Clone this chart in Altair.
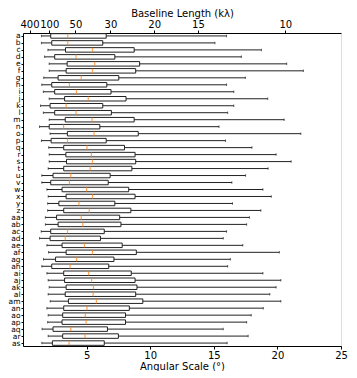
import altair as alt
import pandas as pd

cats = ["a", "b", "c", "d", "e", "f", "g", "h", "i", "j", "k", "l", "m", "n", "o",
        "p", "q", "r", "s", "t", "u", "v", "w", "x", "y", "z",
        "aa", "ab", "ac", "ad", "ae", "af", "ag", "ah", "ai", "aj", "ak", "al", "am",
        "an", "ao", "ap", "aq", "ar", "as"]

w_lo = [1.45, 1.45, 1.96, 1.70, 2.06, 2.06, 1.63, 1.48, 1.60, 2.06, 1.38, 1.60, 2.06, 1.30, 2.13,
        1.45, 2.02, 2.06, 2.06, 1.98, 1.48, 1.48, 1.88, 1.98, 1.94, 1.94,
        1.76, 1.76, 1.43, 1.30, 1.88, 2.01, 1.61, 1.48, 1.88, 1.98, 2.06, 1.98, 2.14,
        1.88, 1.98, 1.94, 1.50, 1.98, 1.48]

q1 = [2.18, 2.26, 3.34, 2.49, 3.47, 3.39, 2.76, 2.26, 2.49, 3.27, 2.13, 2.49, 3.32, 2.06, 3.49,
      2.21, 3.20, 3.37, 3.42, 3.20, 2.36, 2.18, 3.07, 3.39, 2.82, 3.20,
      2.64, 2.76, 2.18, 2.13, 3.07, 3.39, 2.56, 2.26, 3.20, 3.27, 3.39, 3.32, 3.57,
      3.20, 3.12, 3.07, 2.36, 3.12, 2.31]

med = [3.52, 3.52, 5.46, 4.17, 5.64, 5.46, 4.58, 3.65, 4.20, 5.13, 3.39, 4.17, 5.43, 3.19, 5.59,
       3.50, 5.03, 5.38, 5.46, 5.28, 3.75, 3.65, 5.00, 5.46, 4.40, 5.21,
       4.58, 4.70, 3.50, 3.32, 4.83, 5.46, 4.21, 3.70, 5.16, 5.39, 5.54, 5.51, 5.77,
       5.03, 4.90, 4.96, 3.75, 4.88, 3.62]

q3 = [6.54, 6.27, 8.74, 7.22, 9.17, 8.86, 7.53, 6.59, 6.92, 8.10, 6.27, 6.95, 8.74, 6.04, 9.06,
      6.54, 7.98, 8.81, 8.86, 8.56, 6.85, 6.70, 8.31, 8.81, 7.22, 8.48,
      7.60, 7.70, 6.39, 6.09, 7.80, 8.91, 7.15, 6.74, 8.51, 8.81, 8.96, 8.86, 9.42,
      8.36, 8.06, 8.06, 6.64, 7.50, 6.39]

w_hi = [16.00, 15.09, 18.74, 17.17, 20.73, 22.04, 17.48, 16.00, 16.57, 19.24, 16.57, 16.09, 20.53, 15.41, 21.84,
        15.92, 18.00, 19.90, 21.08, 19.27, 17.50, 16.42, 18.86, 19.52, 16.47, 18.70,
        17.80, 17.58, 16.00, 15.74, 17.28, 20.15, 16.30, 16.09, 18.86, 20.27, 19.90, 19.40, 20.27,
        18.89, 17.94, 17.58, 15.74, 17.70, 16.05]

baselines = [400, 100, 50, 30, 20, 15, 10]
bottom_ticks = [5, 10, 15, 20, 25]

df = pd.DataFrame({"cat": cats, "lo": w_lo, "q1": q1, "med": med, "q3": q3, "hi": w_hi})
top_vals = [206.265 / b for b in baselines]
top_df = pd.DataFrame({"ang": top_vals})

FONT = "DejaVu Sans"
LINE = "#222222"

x_axis = alt.Axis(title="Angular Scale (°)", values=bottom_ticks, grid=False,
                  labelFontSize=10, titleFontSize=10, labelPadding=1, titlePadding=1,
                  tickSize=3, labelFont=FONT, titleFont=FONT, titleFontWeight="normal",
                  labelColor="black", titleColor="black", domainColor="black",
                  tickColor="black", labelFlush=False)


def xs():
    return alt.Scale(domain=[0, 25], nice=False, zero=False)


y_enc = alt.Y("cat:N", sort=cats, title=None,
              scale=alt.Scale(type="point", padding=0.42),
              axis=alt.Axis(labelFontSize=7.5, labelPadding=1, tickSize=2, labelFont=FONT,
                            labelColor="black", domainColor="black", tickColor="black",
                            grid=False, labelOverlap=False))

base = alt.Chart(df)

whisk = base.mark_rule(color=LINE, strokeWidth=1).encode(
    x=alt.X("lo:Q", scale=xs(), axis=x_axis), x2="hi:Q", y=y_enc)

box = base.mark_bar(fill="white", stroke=LINE, strokeWidth=1, size=4.5).encode(
    x=alt.X("q1:Q", scale=xs(), axis=x_axis), x2="q3:Q", y=y_enc)

median = base.mark_tick(color="#ff7f0e", orient="vertical", size=4.5, thickness=1.2).encode(
    x=alt.X("med:Q", scale=xs(), axis=x_axis), y=y_enc)

cap_lo = base.mark_tick(color=LINE, orient="vertical", size=2.5, thickness=1).encode(
    x=alt.X("lo:Q", scale=xs(), axis=x_axis), y=y_enc)

cap_hi = base.mark_tick(color=LINE, orient="vertical", size=2.5, thickness=1).encode(
    x=alt.X("hi:Q", scale=xs(), axis=x_axis), y=y_enc)

boxes = alt.layer(whisk, box, median, cap_lo, cap_hi)

top = alt.Chart(top_df).mark_point(opacity=0).encode(
    x=alt.X("ang:Q", scale=xs(),
            axis=alt.Axis(orient="top", title="Baseline Length (kλ)", values=top_vals,
                          labelExpr="format(206.265 / datum.value, '.0f')",
                          labelOverlap=False, labelFlush=False, grid=False,
                          labelFontSize=10, titleFontSize=10, labelPadding=1, titlePadding=1,
                          tickSize=3, labelFont=FONT, titleFont=FONT, titleFontWeight="normal",
                          labelColor="black", titleColor="black", domainColor="black",
                          tickColor="black"))
)

chart = alt.layer(boxes, top).resolve_scale(
    x="independent").resolve_axis(x="independent").properties(
    width=318, height=313, padding=0
).configure_view(stroke="black", strokeWidth=1).configure(background="white")

chart.save("out.html", embed_options={"renderer": "svg", "actions": False})
